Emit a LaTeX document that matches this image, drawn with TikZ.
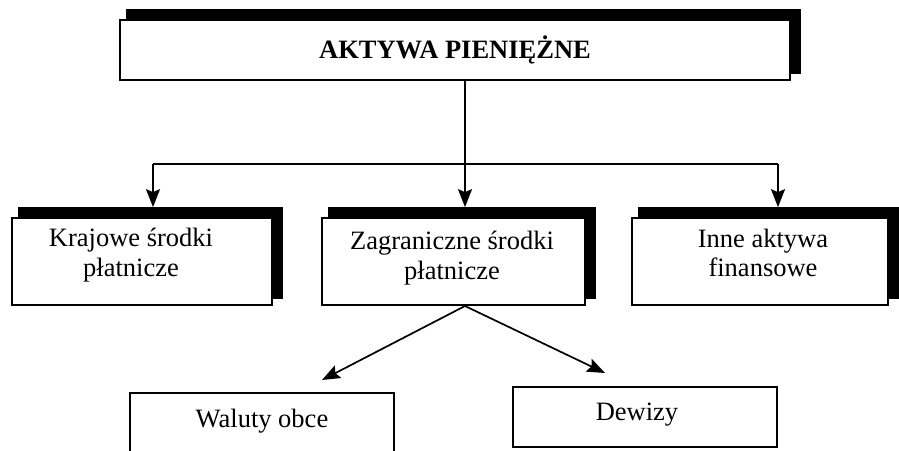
\documentclass[tikz,border=0pt]{standalone}
\usepackage{fontspec}
\setmainfont{Liberation Serif}
\usetikzlibrary{arrows.meta,calc,backgrounds}

\tikzset{
  box/.style={draw=black, fill=white, line width=1.7pt, rectangle, inner sep=0pt},
  txt/.style={align=center, font=\fontsize{26.5}{29.5}\selectfont, inner sep=0pt},
  conn/.style={line width=1.7pt},
  arr/.style={line width=1.7pt, -{Stealth[length=18pt,width=14pt,inset=3pt]}},
}

\begin{document}
\begin{tikzpicture}[x=1pt, y=-1pt]
  \clip (0,0) rectangle (899,450);

  % framed boxes
  \node[box, minimum width=670pt, minimum height=60pt] (top) at (455,50) {};
  \node[box, minimum width=260pt, minimum height=87pt] (b1) at (142,261.5) {};
  \node[box, minimum width=263pt, minimum height=87pt] (b2) at (453.5,261.5) {};
  \node[box, minimum width=256pt, minimum height=87pt] (b3) at (760,261.5) {};
  \node[box, minimum width=264pt, minimum height=60pt] (c1) at (262,423) {};
  \node[box, minimum width=264pt, minimum height=60pt] (c2) at (645,417) {};

  % page ground and heavy shadow along the top and right edges
  \begin{scope}[on background layer]
    \fill[white] (0,0) rectangle (899,450);
    \foreach \n in {top,b1,b2,b3}
      \fill[black] ($(\n.north west)+(7pt,10pt)$) rectangle ($(\n.south east)+(10pt,7pt)$);
  \end{scope}

  % labels
  \node[txt, font=\fontsize{26.5}{29.5}\selectfont\bfseries] (ttop) at (455,50) {AKTYWA PIENIĘŻNE};
  \node[txt] (t1) at (131,255) {Krajowe środki\\płatnicze};
  \node[txt] (t2) at (452,258) {Zagraniczne środki\\płatnicze};
  \node[txt] (t3) at (763,253) {Inne aktywa\\finansowe};
  \node[txt] (tc1) at (262,421) {Waluty obce};
  \node[txt] (tc2) at (637,415) {Dewizy};

  % connectors from the top box
  \coordinate (split) at (465,164);
  \coordinate (a1) at (153,164);
  \coordinate (a3) at (778,164);
  \draw[conn] (top.south -| split) -- (split);
  \draw[conn] (a1) -- (a3);
  \draw[arr, shorten >=10pt] (a1) -- (a1 |- b1.north);
  \draw[arr, shorten >=10pt] (split) -- (split |- b2.north);
  \draw[arr, shorten >=10pt] (a3) -- (a3 |- b3.north);

  % connectors to the lower level
  \coordinate (fork) at (465,306);
  \coordinate (e1) at (322,380);
  \coordinate (e2) at (605,373);
  \draw[arr] (fork) -- (e1);
  \draw[arr] (fork) -- (e2);
\end{tikzpicture}
\end{document}
